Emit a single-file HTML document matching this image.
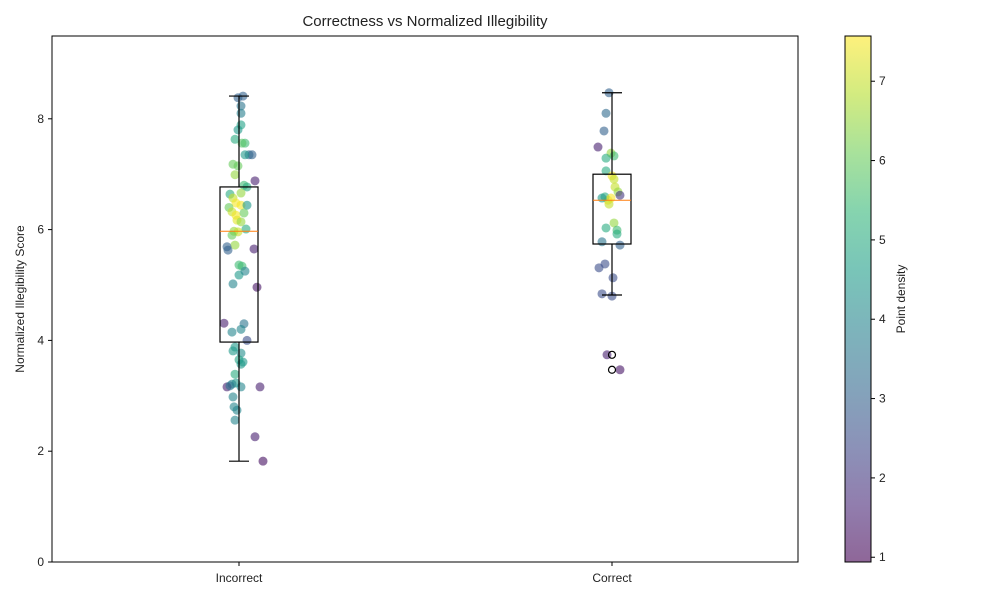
<!DOCTYPE html>
<html><head><meta charset="utf-8"><style>
body{margin:0;background:#fff;}
svg{display:block;font-family:"Liberation Sans",sans-serif;}
</style></head><body>
<svg id="chart" width="1000" height="600" viewBox="0 0 1000 600">
<defs><linearGradient id="vir" x1="0" y1="1" x2="0" y2="0"></linearGradient></defs>
<rect width="1000" height="600" fill="#fff"/>
<text x="425" y="26" text-anchor="middle" font-size="15" fill="#222">Correctness vs Normalized Illegibility</text>
<g id="plot"></g>
<rect x="52" y="36" width="746" height="526" fill="none" stroke="#000" stroke-width="1"/>
<text transform="translate(24,299) rotate(-90)" text-anchor="middle" font-size="12" fill="#222">Normalized Illegibility Score</text>
<g id="cbar"></g>
<text transform="translate(905,299) rotate(-90)" text-anchor="middle" font-size="12" fill="#222">Point density</text>
</svg>
<script>
const categories=["Incorrect","Correct"];
const yTicks=[0,2,4,6,8];
const cbTicks=[1,2,3,4,5,6,7];
const incorrectJitter=[4,-1,2,2,-1,2,-4,6,3,10,13,6,-6,-1,-4,16,5,8,2,-9,-6,-3,-10,2,8,-7,-3,5,-2,2,7,-5,-1,-7,-4,-12,-11,15,0,3,0,6,-6,18,-15,5,-7,2,8,-4,-6,2,0,2,4,-4,-3,-7,-12,-9,2,21,-6,-5,-2,-4,16,24];
const incorrectValues=[8.41,8.38,8.23,8.1,7.8,7.89,7.63,7.56,7.56,7.35,7.35,7.35,7.18,7.15,6.99,6.88,6.8,6.77,6.66,6.64,6.57,6.48,6.4,6.44,6.44,6.32,6.26,6.3,6.17,6.14,6.01,5.97,5.96,5.9,5.72,5.69,5.63,5.65,5.36,5.34,5.18,5.25,5.02,4.96,4.31,4.3,4.15,4.2,4.0,3.88,3.81,3.77,3.65,3.57,3.61,3.39,3.23,3.21,3.16,3.18,3.16,3.16,2.98,2.8,2.74,2.56,2.26,1.82];
const incorrectDensity=[3,3,3.5,3.8,4.5,4.7,5,5.5,5.8,3.3,3,4.5,6,6,6.5,1.5,5.5,5,6.5,5,7,7.5,6,7.5,4.5,7,7.5,6,7.3,6.5,5,6.5,7,6,6.5,3,3,1.5,5.5,5.5,4.5,4,4,1.3,1.5,3.5,4,4,2.5,4.5,4.5,4.2,4.8,4.5,4.5,5,4.5,4,1.5,3.5,4,1.5,4,4,4,4,1.5,1.2];
const correctJitter=[-3,-6,-8,-14,-1,2,-6,-6,0,2,3,6,8,-4,-7,-10,-1,-3,2,5,5,-6,-10,8,-7,-13,1,-10,0,-5,8];
const correctValues=[8.47,8.1,7.78,7.49,7.38,7.33,7.29,7.06,6.97,6.91,6.77,6.68,6.62,6.53,6.59,6.57,6.57,6.46,6.12,5.99,5.92,6.03,5.78,5.72,5.38,5.31,5.13,4.84,4.8,3.74,3.47];
const correctDensity=[3,3.2,3,1.5,6.5,5.5,5,5,7.5,7,7,6.5,2,7.5,5,4.5,7.5,7,6.5,5.5,5,5,3.5,3,2.5,2.5,2.5,2.5,2.5,1.5,1.3];
const boxLow=[1.82,4.82];
const boxQ1=[3.97,5.74];
const boxMedian=[5.97,6.53];
const boxQ3=[6.77,7.0];
const boxHigh=[8.41,8.47];
const outlierValues=[[],[3.74,3.47]];

const NS="http://www.w3.org/2000/svg";
const yScale=v=>562-v*55.4;
const xCat=i=>239+i*373;
const dMin=0.94,dMax=7.57;
const cbY=d=>562-(d-dMin)/(dMax-dMin)*526;
const vir=[[68,1,84],[72,40,120],[62,74,137],[49,104,142],[38,130,142],[31,158,137],[53,183,121],[110,206,88],[181,222,43],[253,231,37]];
function color(d){let t=Math.max(0,Math.min(1,(d-dMin)/(dMax-dMin)))*9;let i=Math.min(8,Math.floor(t)),f=t-i;const a=vir[i],b=vir[i+1];return `rgb(${a.map((c,k)=>Math.round(c+(b[k]-c)*f)).join(',')})`;}
function mk(tag,attrs,parent){const e=document.createElementNS(NS,tag);for(const k in attrs)e.setAttribute(k,attrs[k]);parent.appendChild(e);return e;}
const svg=document.getElementById('chart');
const plot=document.getElementById('plot');
// y ticks
yTicks.forEach(v=>{
  const l=mk('line',{x1:48,x2:52,y1:yScale(v),y2:yScale(v),stroke:'#000'},plot);
  
  
  const t=mk('text',{x:44,y:yScale(v)+4,'text-anchor':'end','font-size':12,fill:'#222'},plot);
  t.textContent=v;
  
  
});
categories.forEach((c,i)=>{
  const l=mk('line',{x1:xCat(i),x2:xCat(i),y1:562,y2:566,stroke:'#000'},plot);
  
  
  const t=mk('text',{x:xCat(i),y:582,'text-anchor':'middle','font-size':12,fill:'#222'},plot);
  t.textContent=c;
  
  
});
// points
function drawPts(jit,vals,dens,i){
  vals.forEach((v,k)=>{
    const p=mk('circle',{cx:xCat(i)+jit[k],cy:yScale(v),r:4.5,fill:color(dens[k]),'fill-opacity':0.6},plot);
    
    
  });
}
drawPts(incorrectJitter,incorrectValues,incorrectDensity,0);
drawPts(correctJitter,correctValues,correctDensity,1);
// boxes
categories.forEach((c,i)=>{
  const x=xCat(i);
  const g=mk('g',{stroke:'#000','stroke-width':1.2,fill:'none'},plot);
  
  
  mk('rect',{x:x-19,y:yScale(boxQ3[i]),width:38,height:yScale(boxQ1[i])-yScale(boxQ3[i])},g);
  mk('line',{x1:x,x2:x,y1:yScale(boxQ3[i]),y2:yScale(boxHigh[i])},g);
  mk('line',{x1:x,x2:x,y1:yScale(boxQ1[i]),y2:yScale(boxLow[i])},g);
  mk('line',{x1:x-10,x2:x+10,y1:yScale(boxHigh[i]),y2:yScale(boxHigh[i])},g);
  mk('line',{x1:x-10,x2:x+10,y1:yScale(boxLow[i]),y2:yScale(boxLow[i])},g);
  const m=mk('line',{x1:x-19,x2:x+19,y1:yScale(boxMedian[i]),y2:yScale(boxMedian[i]),stroke:'#ff7f0e'},plot);
  
  
  outlierValues[i].forEach(v=>{
    const o=mk('circle',{cx:x,cy:yScale(v),r:3.5,fill:'none',stroke:'#000','stroke-width':1.2},plot);
    
    
  });
});
// colorbar
const grad=document.getElementById('vir');
vir.forEach((c,k)=>mk('stop',{offset:(k/9*100)+'%','stop-color':`rgb(${c.join(',')})`},grad));
const cb=document.getElementById('cbar');
const r=mk('rect',{x:845,y:36,width:26,height:526,fill:'url(#vir)','fill-opacity':0.6,stroke:'#000','stroke-width':1},cb);


cbTicks.forEach(d=>{
  const l=mk('line',{x1:871,x2:875,y1:cbY(d),y2:cbY(d),stroke:'#000'},cb);
  
  
  const t=mk('text',{x:879,y:cbY(d)+4,'font-size':12,fill:'#222'},cb);
  t.textContent=d;
  
  
});
</script>
</body></html>
